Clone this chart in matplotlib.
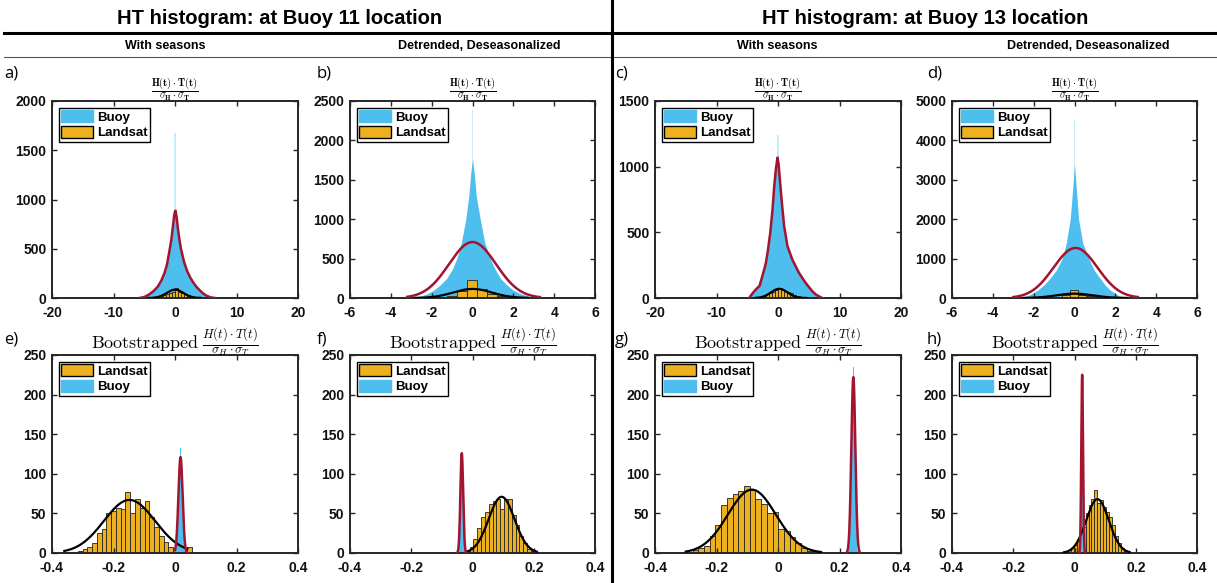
import numpy as np
import matplotlib
matplotlib.use("Agg")
import matplotlib.pyplot as plt
from matplotlib.lines import Line2D
from matplotlib.patches import Patch

matplotlib.rcParams["font.family"] = ["Liberation Sans", "DejaVu Sans"]
matplotlib.rcParams["mathtext.fontset"] = "cm"
matplotlib.rcParams["axes.unicode_minus"] = False

W, H = 1217, 583
BLUE = "#4DBEEE"
BLUE_LIGHT = "#C9ECFA"
ORANGE = "#EDB120"
RED = "#A2142F"
FRAME = "#262626"

# ---------------- top row: raw / detrended H*T histograms ----------------
# buoy histogram envelope (x, count)
buoy_a_x = [-5.8, -5.0, -4.2, -3.5, -2.8, -2.2, -1.7, -1.3, -0.9, -0.6, -0.35, -0.15, 0.0,
            0.1, 0.3, 0.5, 0.75, 1.0, 1.5, 2.0, 2.5, 3.0, 3.5, 4.0, 4.5, 5.0, 5.7, 6.5]
buoy_a_y = [0, 10, 37, 70, 115, 180, 255, 340, 480, 590, 720, 830, 880,
            886, 800, 690, 580, 490, 360, 270, 205, 155, 112, 80, 50, 28, 8, 0]
buoy_b_x = [-3.2, -2.6, -2.2, -1.9, -1.6, -1.26, -1.0, -0.77, -0.55, -0.33, -0.18, -0.08, 0.0,
            0.08, 0.18, 0.38, 0.6, 0.87, 1.1, 1.36, 1.7, 2.0, 2.4, 2.8, 3.3]
buoy_b_y = [0, 20, 55, 100, 160, 250, 360, 500, 700, 1000, 1300, 1600, 1760,
            1600, 1300, 1000, 700, 500, 370, 250, 160, 100, 50, 20, 0]
buoy_c_x = [-4.7, -4.1, -3.5, -3.0, -2.4, -2.0, -1.7, -1.26, -0.89, -0.61, -0.35, -0.08,
            0.1, 0.3, 0.63, 1.0, 1.54, 2.34, 3.0, 3.42, 4.0, 4.5, 5.0, 5.6, 6.2, 6.7, 7.2]
buoy_c_y = [0, 38, 70, 92, 191, 260, 343, 496, 674, 852, 980, 1069,
            1020, 903, 725, 547, 394, 292, 230, 191, 150, 115, 85, 50, 25, 12, 0]
buoy_d_x = [-2.65, -2.2, -1.8, -1.5, -1.2, -0.9, -0.6, -0.4, -0.21, -0.1, 0.0,
            0.1, 0.2, 0.4, 0.7, 0.95, 1.25, 1.5, 1.75, 2.1, 2.4]
buoy_d_y = [0, 80, 200, 330, 500, 700, 1000, 1400, 2000, 2700, 3400,
            2700, 2000, 1400, 1000, 720, 500, 330, 200, 80, 0]
buoy_spike = [1680, 2380, 1240, 4550]

# landsat histograms: first edge, bin width, counts
landsat_top_start = [-4.0, -1.75, -4.0, -1.4]
landsat_top_width = [0.5, 0.49, 0.5, 0.39]
landsat_a = [3, 8, 15, 25, 35, 45, 55, 65, 100, 60, 50, 40, 30, 20, 12, 6]
landsat_b = [10, 30, 85, 225, 115, 50, 30, 12, 5]
landsat_c = [2, 5, 10, 18, 28, 38, 48, 60, 76, 62, 55, 45, 35, 25, 15, 8, 4]
landsat_d = [10, 25, 68, 212, 85, 42, 18, 8]

# normal fits: (mu, sigma, peak, lo, hi)
buoy_fit_top = [None, (0.0, 1.15, 710, -3.2, 3.3), None, (0.05, 1.08, 1270, -3.0, 3.1)]
landsat_fit_top = [(0.0, 1.35, 85, -4.3, 4.2), (0.0, 0.95, 115, -2.8, 2.7),
                   (0.2, 1.35, 70, -3.6, 4.6), (0.0, 0.9, 110, -2.5, 2.55)]

top_xlim = [20, 6, 20, 6]
top_xticks = [[-20, -10, 0, 10, 20], [-6, -4, -2, 0, 2, 4, 6]] * 2
top_ylim = [2000, 2500, 1500, 5000]
top_ystep = [500, 500, 500, 1000]

# ---------------- bottom row: bootstrapped ----------------
buoy_boot_start = [0.0015, -0.049, 0.2285, 0.0185]
buoy_boot_width = [0.003, 0.003, 0.003, 0.0015]
buoy_e = [3, 12, 35, 70, 108, 132, 115, 75, 38, 14, 4]
buoy_f = [4, 20, 60, 110, 128, 95, 45, 12, 3]
buoy_g = [3, 15, 50, 120, 200, 235, 215, 140, 60, 18, 4]
buoy_h = [5, 40, 130, 230, 262, 200, 100, 25, 5]

landsat_boot_start = [-0.347, -0.022, -0.278, -0.03]
landsat_boot_width = [0.0155, 0.0125, 0.0186, 0.0095]
landsat_e = [1, 1, 3, 5, 8, 12, 25, 30, 50, 53, 57, 55, 77, 51, 68, 57, 66, 46, 33, 22,
             14, 8, 5, 4, 3, 8]
landsat_f = [2, 8, 18, 32, 45, 52, 62, 66, 68, 55, 68, 68, 48, 35, 22, 12, 5, 2]
landsat_g = [4, 6, 9, 22, 35, 60, 70, 75, 78, 85, 80, 68, 62, 50, 52, 30, 28, 20, 12, 6, 3]
landsat_h = [3, 4, 6, 10, 18, 22, 33, 50, 60, 68, 80, 63, 67, 58, 52, 45, 35, 22, 12, 6, 2]

buoy_fit_boot = [(0.018, 0.0068, 121, 0.0, 0.04), (-0.035, 0.0045, 126, -0.05, -0.02),
                 (0.245, 0.0065, 222, 0.225, 0.265), (0.025, 0.0028, 225, 0.015, 0.035)]
landsat_fit_boot = [(-0.148, 0.083, 67, -0.36, 0.04), (0.095, 0.042, 71, -0.02, 0.21),
                    (-0.085, 0.078, 80, -0.3, 0.14), (0.075, 0.037, 68, -0.035, 0.18)]

panel_labels = ["a)", "b)", "c)", "d)", "e)", "f)", "g)", "h)"]
col_px = [(52, 298), (350, 595), (655, 901), (952, 1197)]
label_px = [4, 317, 615, 927]


def px_rect(l, t, r, b):
    return [l / W, 1 - b / H, (r - l) / W, (b - t) / H]


def gauss(fit):
    mu, sd, peak, lo, hi = fit
    x = np.linspace(lo, hi, 300)
    return x, peak * np.exp(-0.5 * ((x - mu) / sd) ** 2)


def style_axes(ax):
    for sp in ax.spines.values():
        sp.set_linewidth(1.4)
        sp.set_color(FRAME)
    ax.tick_params(axis="both", direction="in", length=3.5, width=1.0, color=FRAME,
                   top=True, right=True, labelsize=10, labelcolor="#111111")
    ax.tick_params(axis="x", pad=5.5)
    ax.tick_params(axis="y", pad=4)
    for lab in ax.get_xticklabels() + ax.get_yticklabels():
        lab.set_fontweight("bold")


def draw_hist(ax, start, width, counts, color, edge, lw, z):
    centers = start + width * (np.arange(len(counts)) + 0.5)
    ax.bar(centers, counts, width=width, color=color, edgecolor=edge, linewidth=lw, zorder=z)


def add_legend(ax, handles, labels):
    leg = ax.legend(handles, labels, loc="upper left", fancybox=False,
                    edgecolor="k", framealpha=1, borderaxespad=0.5, handlelength=2.4,
                    handleheight=1.05, handletextpad=0.3, labelspacing=0.15, borderpad=0.2,
                    prop={"weight": "bold", "size": 9.5})
    leg.get_frame().set_linewidth(1.0)


fig = plt.figure(figsize=(W / 100, H / 100), dpi=100)

# headers
fig.text(280 / W, 1 - 18 / H, "HT histogram: at Buoy 11 location", ha="center", va="center",
         fontsize=14.5, fontweight="bold")
fig.text(925 / W, 1 - 18 / H, "HT histogram: at Buoy 13 location", ha="center", va="center",
         fontsize=14.5, fontweight="bold")
for xc, s in zip([165, 479, 777, 1088],
                 ["With seasons", "Detrended, Deseasonalized"] * 2):
    fig.text(xc / W, 1 - 46 / H, s, ha="center", va="center", fontsize=9, fontweight="bold")
fig.add_artist(Line2D([4 / W, 1], [1 - 33 / H] * 2, color="k", lw=2.2))
fig.add_artist(Line2D([4 / W, 1], [1 - 57 / H] * 2, color="#555555", lw=0.8))
fig.add_artist(Line2D([612 / W] * 2, [0, 1], color="k", lw=2.2))

buoy_env = [(buoy_a_x, buoy_a_y), (buoy_b_x, buoy_b_y), (buoy_c_x, buoy_c_y), (buoy_d_x, buoy_d_y)]
landsat_top = [landsat_a, landsat_b, landsat_c, landsat_d]
top_title = r"$\frac{\mathbf{H(t)\cdot T(t)}}{\sigma_{\mathbf{H}}\cdot\sigma_{\mathbf{T}}}$"

for i in range(4):
    l, r = col_px[i]
    ax = fig.add_axes(px_rect(l, 101, r, 298))
    bx, by = buoy_env[i]
    ax.fill_between(bx, by, color=BLUE, lw=0, zorder=1)
    sw = top_xlim[i] / 100.0
    ax.bar([0.0], [buoy_spike[i]], width=sw, color=BLUE_LIGHT, lw=0, zorder=0.9)
    draw_hist(ax, landsat_top_start[i], landsat_top_width[i], landsat_top[i],
              ORANGE, "#222222", 0.6, 2)
    if buoy_fit_top[i] is None:
        ax.plot(bx, by, color=RED, lw=1.8, zorder=3)
    else:
        ax.plot(*gauss(buoy_fit_top[i]), color=RED, lw=1.8, zorder=3)
    ax.plot(*gauss(landsat_fit_top[i]), color="k", lw=1.6, zorder=4)
    ax.set_xlim(-top_xlim[i], top_xlim[i])
    ax.set_ylim(0, top_ylim[i])
    ax.set_xticks(top_xticks[i])
    ax.set_yticks(np.arange(0, top_ylim[i] + 1, top_ystep[i]))
    style_axes(ax)
    ax.set_title(top_title, fontsize=10.5, pad=4)
    add_legend(ax, [Patch(facecolor=BLUE, edgecolor=BLUE), Patch(facecolor=ORANGE, edgecolor="k")],
               ["Buoy", "Landsat"])
    fig.text(label_px[i] / W, 1 - 73 / H, panel_labels[i], ha="left", va="center",
             fontsize=12, family="Open Sans")

buoy_boot = [buoy_e, buoy_f, buoy_g, buoy_h]
landsat_boot = [landsat_e, landsat_f, landsat_g, landsat_h]
boot_title = r"$\mathrm{Bootstrapped}\ \frac{H(t)\cdot T(t)}{\sigma_H\cdot\sigma_T}$"

for i in range(4):
    l, r = col_px[i]
    ax = fig.add_axes(px_rect(l, 355, r, 553))
    draw_hist(ax, landsat_boot_start[i], landsat_boot_width[i], landsat_boot[i],
              ORANGE, "#222222", 0.6, 1)
    draw_hist(ax, buoy_boot_start[i], buoy_boot_width[i], buoy_boot[i], BLUE, "none", 0, 2)
    ax.plot(*gauss(landsat_fit_boot[i]), color="k", lw=1.6, zorder=3)
    ax.plot(*gauss(buoy_fit_boot[i]), color=RED, lw=1.8, zorder=4)
    ax.set_xlim(-0.4, 0.4)
    ax.set_ylim(0, 250)
    ax.set_xticks([-0.4, -0.2, 0, 0.2, 0.4])
    ax.set_xticklabels(["-0.4", "-0.2", "0", "0.2", "0.4"])
    ax.set_yticks(np.arange(0, 251, 50))
    style_axes(ax)
    ax.set_title(boot_title, fontsize=13, pad=5)
    add_legend(ax, [Patch(facecolor=ORANGE, edgecolor="k"), Patch(facecolor=BLUE, edgecolor=BLUE)],
               ["Landsat", "Buoy"])
    fig.text(label_px[i] / W, 1 - 340 / H, panel_labels[4 + i], ha="left", va="center",
             fontsize=12, family="Open Sans")

fig.savefig("out.png", dpi=100)
